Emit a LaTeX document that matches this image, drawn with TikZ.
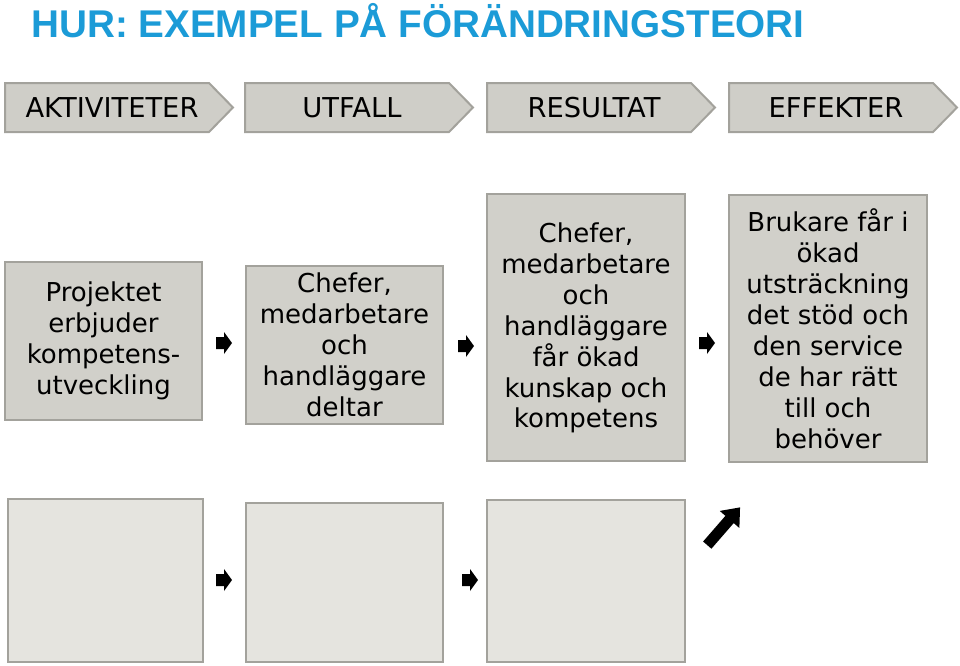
\documentclass[tikz,border=0pt]{standalone}
\usepackage{fontspec}
\setmainfont{DejaVu Sans}
\newfontfamily\titlefont{Liberation Sans}
\definecolor{tblue}{HTML}{1B9BD7}
\definecolor{hfill}{HTML}{CFCEC8}
\definecolor{bfill}{HTML}{D1D0CA}
\definecolor{lfill}{HTML}{E5E4DF}
\definecolor{bord}{HTML}{A3A29C}
\begin{document}
\begin{tikzpicture}[x=0.75pt,y=-0.75pt,
  hdr/.style={fill=hfill,draw=bord,line width=1.5pt},
  bx/.style={fill=bfill,draw=bord,line width=1.5pt},
  lbx/.style={fill=lfill,draw=bord,line width=1.5pt},
  txt/.style={align=center,font=\fontsize{19.5}{23.2}\selectfont,inner sep=0pt},
  htxt/.style={font=\fontsize{20.5}{24}\selectfont,inner sep=0pt}]
\useasboundingbox (0,0) rectangle (960,665);
\node[anchor=west,text=tblue,font=\titlefont\bfseries\fontsize{29}{34}\selectfont,inner sep=0pt] (title) at (31,21) {HUR: EXEMPEL PÅ FÖRÄNDRINGSTEORI};
\foreach \x/\t/\n in {5/AKTIVITETER/h1,245/UTFALL/h2,487/RESULTAT/h3,729/EFFEKTER/h4}{
  \draw[hdr] (\x,83) -- (\x+204,83) -- (\x+228,107.5) -- (\x+204,132) -- (\x,132) -- cycle;
  \node[htxt] (\n) at (\x+107,107.5) {\t};
}
\draw[bx] (5,262) rectangle (202,420);
\node[txt] (b1) at (103.5,341) {Projektet\\erbjuder\\kompetens-\\utveckling};
\draw[bx] (246,266) rectangle (443,424);
\node[txt] (b2) at (344.5,345) {Chefer,\\medarbetare\\och\\handläggare\\deltar};
\draw[bx] (487,194) rectangle (685,461);
\node[txt] (b3) at (586,328) {Chefer,\\medarbetare\\och\\handläggare\\får ökad\\kunskap och\\kompetens};
\draw[bx] (729,195) rectangle (927,462);
\node[txt] (b4) at (828,329) {Brukare får i\\ökad\\utsträckning\\det stöd och\\den service\\de har rätt\\till och\\behöver};
\draw[lbx] (8,499) rectangle (203,662);
\draw[lbx] (246,503) rectangle (443,662);
\draw[lbx] (487,500) rectangle (685,662);
\foreach \cx/\cy in {224/343,466/346,707/343,224/580,470/580}{
  \fill (\cx-8,\cy-6) -- (\cx,\cy-6) -- (\cx,\cy-11) -- (\cx+8,\cy) -- (\cx,\cy+11) -- (\cx,\cy+6) -- (\cx-8,\cy+6) -- cycle;
}
\begin{scope}[shift={(723,527)},rotate=49]
\fill (-24,-5.5) -- (10,-5.5) -- (10,-13) -- (26,0) -- (10,13) -- (10,5.5) -- (-24,5.5) -- cycle;
\end{scope}
\end{tikzpicture}
\end{document}
